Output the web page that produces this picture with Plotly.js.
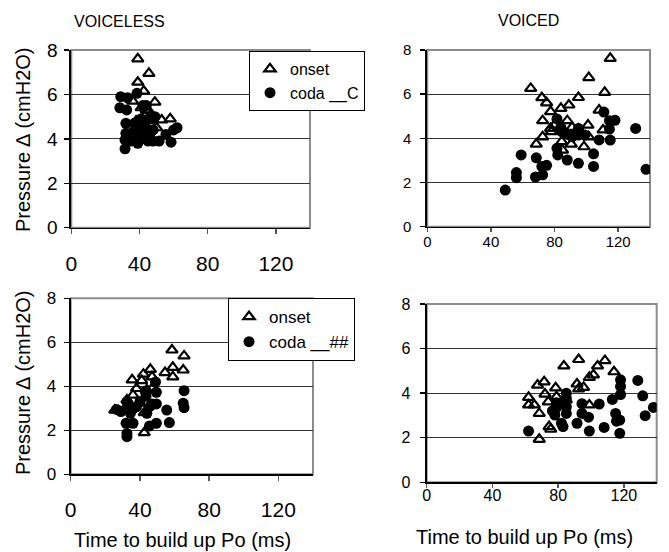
<!DOCTYPE html>
<html>
<head>
<meta charset="utf-8">
<script src="https://cdn.plot.ly/plotly-3.0.1.min.js"></script>
<style>html,body{margin:0;padding:0;background:#fff;}#chart{width:669px;height:552px;}</style>
</head>
<body>
<div id="chart"></div>
<script>
// ---- data (time to build up Po in ms, pressure delta in cmH2O) ----
var voicelessOnsetX = [39,45.5,39,42.5,36,49,41,44,38,43,47,53,58,40,45,50,42,46];
var voicelessOnsetY = [7.6,6.95,6.55,6.15,5.7,5.65,5.4,5.3,4.8,5.0,5.1,4.85,4.9,4.6,4.4,4.5,4.2,4.7];
var voicelessCodaCX = [29,33,38.5,28.5,32.5,32,32,31.5,31.5,34,36,39,38,40,41,42,44,43,45,46,47,48,49,44,40,51.5,55.5,58.5,60,62,37,42,48,35];
var voicelessCodaCY = [5.9,5.85,6.05,5.4,5.3,4.7,4.25,3.95,3.55,4.1,4.3,3.8,4.5,4.3,4.9,5.5,5.5,4.6,3.9,4.2,4.9,4.4,5.0,4.0,4.0,3.9,4.2,3.85,4.4,4.5,4.7,4.1,3.9,3.9];

var voicedOnsetX = [65,115,101.5,111.5,72,75,95,89,84,77.5,108,72.5,88,80,77.5,101,91,72.5,78,101.5,110.5,68.5,84.5,90.5,98.5,85,95];
var voicedOnsetY = [6.26,7.62,6.75,6.08,5.84,5.61,5.85,5.51,5.36,5.21,5.28,4.8,4.8,4.6,4.45,4.6,4.5,4.07,4.3,4.07,4.38,3.74,3.85,3.74,3.62,3.47,4.42];
var voicedCodaCX = [49,56,56,59,68.5,68,72.5,72,75,81.5,81.5,82,84.5,88,88,95,95,95,104.5,104.5,108,111,114.5,118,114.5,115,131,137.5,91,84,99];
var voicedCodaCY = [1.66,2.45,2.22,3.25,3.12,2.25,2.35,2.73,2.78,4.88,3.55,3.25,4.3,4.18,3.02,4.45,4.15,2.87,3.3,2.73,3.93,5.19,4.8,4.82,4.42,3.92,4.45,2.6,4.07,4.5,4.15];

var voicelessOnset2X = [25.5,35.5,42,46,41,36,38,47,47,39.5,42.5,42.5,54.5,58.5,59,59,65.5,65,32.5,30,44,34.5];
var voicelessOnset2Y = [2.92,4.29,4.55,4.77,4.26,3.6,3.9,3.9,4.43,3.23,2.8,1.89,4.62,5.65,4.86,4.43,5.38,4.74,3.38,2.88,3.84,3.13];
var voicelessCodaHX = [29,32.5,32,32.5,32.5,36,36,40,43,43.5,46,47,49.5,49.5,49,45.5,49.5,55.5,57,65.5,65,65.5,34.5,38,44,26.5];
var voicelessCodaHY = [2.85,3.3,2.32,1.71,1.86,2.32,2.98,3.3,3.77,3.55,3.1,3.2,3.2,3.73,4.2,2.2,2.32,2.92,2.35,3.8,3.23,3.03,2.77,3.07,2.77,2.95];

var voicedOnset2X = [62,62,65.5,68.5,68.5,67.5,71.5,72,74,78.5,79,79.5,75.5,74.5,83.5,92.5,91.5,92.5,95.5,99,101.5,104,108.5,114,99,85];
var voicedOnset2Y = [3.81,3.47,3.47,3.09,1.93,4.36,4.51,3.96,3.61,4.24,3.84,3.47,2.38,2.5,5.22,5.51,4.41,4.19,4.26,4.71,4.82,5.22,5.46,4.96,3.47,3.7];
var voicedCodaHX = [62,78,79,79,83,82,85,85,85,91.5,94.5,94.5,98.5,99,105,108,113,115,115.5,118,118,118,117.5,117.5,128.5,131.5,133,138,76.5,85];
var voicedCodaHY = [2.3,3.02,3.57,3.36,2.5,2.65,3.76,3.39,3.09,2.65,3.53,3.09,2.92,2.3,3.51,2.46,3.72,3.09,2.74,4.6,4.3,3.94,2.79,2.2,4.57,3.88,2.99,3.36,3.2,4.0];

var xTicks = [0,40,80,120];
var yTicks = [0,2,4,6,8];
var panelTitles = ["VOICELESS","VOICED"];
var yTitle = "Pressure \u2206 (cmH2O)";
var xTitle = "Time to build up Po (ms)";
var legendNames = ["onset","coda __C","coda __##"];

// ---- layout helpers ----
var W = 669, H = 552;
var FONT = "Liberation Sans, Arial, sans-serif";
function px2x(p){ return p / W; }
function px2y(p){ return 1 - p / H; }

function onsetTrace(x, y, xa, ya, name, leg, show){
  return {x:x, y:y, xaxis:xa, yaxis:ya, type:'scatter', mode:'markers', name:name,
    legend:leg, showlegend:show, hoverinfo:'x+y',
    marker:{symbol:'triangle-up-open', size:10, color:'#000', line:{width:2.2, color:'#000'}}};
}
function codaTrace(x, y, xa, ya, name, leg, show){
  return {x:x, y:y, xaxis:xa, yaxis:ya, type:'scatter', mode:'markers', name:name,
    legend:leg, showlegend:show, hoverinfo:'x+y',
    marker:{symbol:'circle', size:11, color:'#000', line:{width:0}}};
}

var data = [
  onsetTrace(voicelessOnsetX, voicelessOnsetY, 'x', 'y', legendNames[0], 'legend', true),
  codaTrace(voicelessCodaCX, voicelessCodaCY, 'x', 'y', legendNames[1], 'legend', true),
  onsetTrace(voicedOnsetX, voicedOnsetY, 'x2', 'y2', legendNames[0], 'legend', false),
  codaTrace(voicedCodaCX, voicedCodaCY, 'x2', 'y2', legendNames[1], 'legend', false),
  onsetTrace(voicelessOnset2X, voicelessOnset2Y, 'x3', 'y3', legendNames[0], 'legend2', true),
  codaTrace(voicelessCodaHX, voicelessCodaHY, 'x3', 'y3', legendNames[2], 'legend2', true),
  onsetTrace(voicedOnset2X, voicedOnset2Y, 'x4', 'y4', legendNames[0], 'legend2', false),
  codaTrace(voicedCodaHX, voicedCodaHY, 'x4', 'y4', legendNames[2], 'legend2', false)
];

function xAxis(l, r, anchor, fs, standoff, tl){
  return {domain:[px2x(l), px2x(r)], range:[0,140], anchor:anchor, tickvals:xTicks,
    ticks:'outside', ticklen:tl, tickwidth:1.5, tickcolor:'#555', showline:true, linecolor:'#000', linewidth:1.5,
    showgrid:false, zeroline:false, ticklabelstandoff:standoff,
    tickfont:{family:FONT, size:fs, color:'#000'}, fixedrange:true};
}
function yAxis(t, b, anchor, fs, standoff){
  return {domain:[px2y(b), px2y(t)], range:[0,8], anchor:anchor, tickvals:yTicks,
    ticks:'outside', ticklen:5, tickwidth:1.5, tickcolor:'#000', showline:true, linecolor:'#000', linewidth:2,
    showgrid:true, gridcolor:'#333', gridwidth:1, zeroline:false, ticklabelstandoff:standoff,
    tickfont:{family:FONT, size:fs, color:'#000'}, fixedrange:true};
}

var panels = [
  {xa:'x', ya:'y'}, {xa:'x2', ya:'y2'}, {xa:'x3', ya:'y3'}, {xa:'x4', ya:'y4'}
];
var shapes = panels.map(function(p){
  return {type:'rect', xref:p.xa + ' domain', yref:p.ya + ' domain', x0:0, x1:1, y0:0, y1:1,
    line:{color:'#8c8c8c', width:2}, layer:'below'};
});

function ann(text, xp, yp, size, angle){
  return {text:text, x:px2x(xp), y:px2y(yp), xref:'paper', yref:'paper', showarrow:false,
    xanchor:'center', yanchor:'middle', textangle:angle || 0,
    font:{family:FONT, size:size, color:'#000'}};
}

var layout = {
  width:W, height:H, margin:{l:0, r:0, t:0, b:0}, paper_bgcolor:'#fff', plot_bgcolor:'#fff',
  font:{family:FONT, color:'#000'},
  xaxis: xAxis(71.3, 310, 'y', 21, 12, 5),
  yaxis: yAxis(50, 227.7, 'x', 19, 3),
  xaxis2: xAxis(427.3, 650, 'y2', 15, -3, 4),
  yaxis2: yAxis(50, 226.7, 'x2', 15, 6),
  xaxis3: xAxis(70.7, 313, 'y3', 21, 11, 5),
  yaxis3: yAxis(298.3, 474.3, 'x3', 17, 4),
  xaxis4: xAxis(426.7, 656.7, 'y4', 16, -6, 4),
  yaxis4: yAxis(304, 482.3, 'x4', 16, 6),
  shapes: shapes,
  showlegend:true,
  legend:{x:px2x(249), y:px2y(51), xanchor:'left', yanchor:'top', bgcolor:'#fff', itemwidth:30,
    bordercolor:'#000', borderwidth:1, font:{family:FONT, size:16, color:'#000'}},
  legend2:{x:px2x(228), y:px2y(298), xanchor:'left', yanchor:'top', bgcolor:'#fff', itemwidth:30,
    bordercolor:'#000', borderwidth:1, font:{family:FONT, size:17, color:'#000'}},
  annotations:[
    ann(panelTitles[0], 119, 22, 16),
    ann(panelTitles[1], 528, 20, 16),
    ann(yTitle, 23, 140, 20, -90),
    ann(yTitle, 23, 383, 20, -90),
    ann(xTitle, 182, 540, 20),
    ann(xTitle, 524, 537, 20)
  ]
};

Plotly.newPlot('chart', data, layout, {staticPlot:true, displayModeBar:false});
</script>
</body>
</html>
